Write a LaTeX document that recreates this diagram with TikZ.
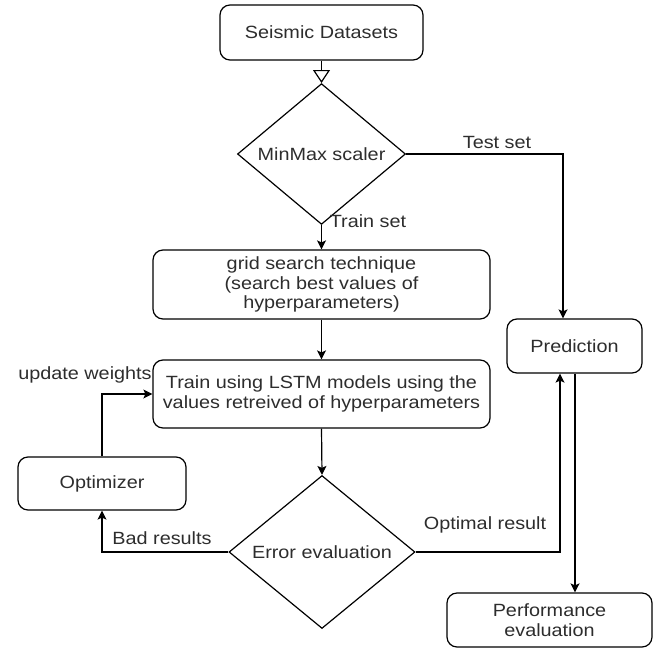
\documentclass[tikz,border=0pt]{standalone}
\usepackage{fontspec}
\setmainfont{Liberation Sans}[FakeStretch=1.12]
\usetikzlibrary{shapes.geometric,arrows.meta,calc}
\definecolor{txt}{RGB}{45,45,45}
\tikzset{
  box/.style={draw, line width=1.2pt, rounded corners=10bp, align=center, inner sep=0pt, text=txt},
  dia/.style={draw, line width=1.2pt, diamond, inner sep=0pt, align=center, text=txt},
  conn/.style={line width=1.2pt, -{Stealth[length=9bp,width=9bp,inset=2bp]}},
  lab/.style={text=txt, inner sep=0pt},
}
\begin{document}
\begin{tikzpicture}[x=1bp,y=-1bp, font=\fontsize{17.7bp}{19.6bp}\selectfont]
\useasboundingbox (0,0) rectangle (654,648);
\node[box, minimum width=203bp, minimum height=55bp] (seis) at (321.5,32.5) {Seismic Datasets};
\node[dia, minimum width=168bp, minimum height=112bp] (mm) at (321.5,154) {MinMax scaler};
\node[box, minimum width=337bp, minimum height=69bp] (grid) at (321.5,284.5) {grid search technique\\(search best values of\\hyperparameters)};
\node[box, minimum width=337bp, minimum height=68bp] (train) at (321.5,394) {Train using LSTM models using the\\values retreived of hyperparameters};
\node[box, minimum width=168bp, minimum height=53bp] (opt) at (102,483.5) {Optimizer};
\node[dia, minimum width=186bp, minimum height=137bp] (err) at (322,552) {\raisebox{-12bp}{Error evaluation}};
\node[box, minimum width=135bp, minimum height=54bp] (pred) at (574.5,346) {Prediction};
\node[box, minimum width=205bp, minimum height=54bp] (perf) at (549.5,620) {Performance\\evaluation};

\draw[line width=1.2pt, -{Triangle[open,length=13bp,width=17bp]}] (seis.south) -- (mm.north);
\draw[conn] (mm.south) -- (grid.north);
\draw[conn] (mm.east) -| ([xshift=-11.5bp]pred.north);
\draw[conn] (grid.south) -- (train.north);
\draw[conn] (opt.north) |- (train.west);
\draw[conn] (train.south) -- (err.north);
\draw[conn] (err.west) -| (opt.south);
\draw[conn] (err.east) -| ([xshift=-14.5bp]pred.south);
\draw[conn] ([xshift=0.5bp]pred.south) -- ([xshift=0.5bp]pred.south |- perf.north);

\node[lab] (tl) at (497,142) {Test set};
\node[lab] (trl) at (368,221) {Train set};
\node[lab] (uw) at (85,375) {update weights};
\node[lab] (br) at (162,538) {Bad results};
\node[lab] (or) at (485,525) {Optimal result};
\end{tikzpicture}
\end{document}
